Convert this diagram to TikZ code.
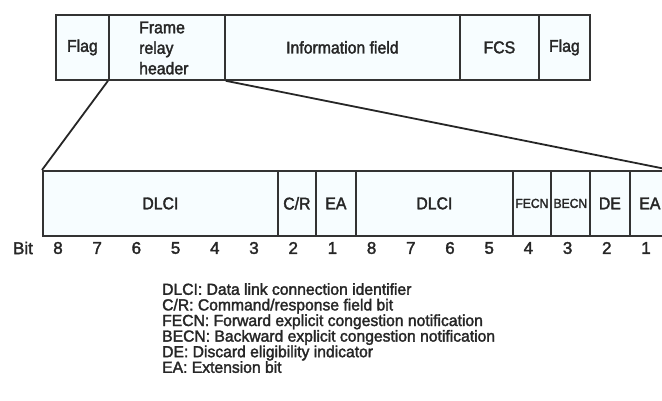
\documentclass[tikz,border=0pt]{standalone}
\usepackage{fontspec}
\setmainfont{Liberation Sans}[FakeBold=2]
\newfontfamily\condf{Liberation Sans}[FakeStretch=0.93,FakeBold=2]
\newfontfamily\legf{Liberation Sans}[FakeStretch=0.98,FakeBold=2]
\newfontfamily\bitf{Liberation Sans}[FakeStretch=1.0,FakeBold=2]
\begin{document}
\begin{tikzpicture}[x=1pt,y=-1pt,
  fld/.style={draw=black!80, line width=1.8pt, fill=cyan!3, rectangle, inner sep=0pt,
     anchor=north west, font=\condf\fontsize{17}{20.5}\selectfont, text=black!85},
  smallfld/.style={fld, font=\condf\fontsize{13}{15}\selectfont},
  bitlbl/.style={font=\bitf\fontsize{17}{19}\selectfont, text=black!85, inner sep=0pt},
  conn/.style={draw=black!85, line width=1.8pt},
  legend/.style={font=\legf\fontsize{16}{15.6}\selectfont, text=black!85, align=left, anchor=north west, inner sep=0pt}]
\useasboundingbox (0,0) rectangle (662,400);
\begin{scope}
\clip (0,0) rectangle (662,400);
% top frame
\node[fld, minimum width=53, minimum height=65] (flag1) at (55,14) {Flag};
\node[fld, minimum width=116, minimum height=65] (hdr) at (108,14) {};
\node[fld, minimum width=235, minimum height=65] (info) at (224,14) {Information field};
\node[fld, minimum width=79, minimum height=65] (fcs) at (459,14) {FCS};
\node[fld, minimum width=51, minimum height=65] (flag2) at (538,14) {Flag};
\node[font=\condf\fontsize{17}{20.5}\selectfont, text=black!85, align=left, anchor=west, inner sep=0pt] (hdrtxt) at (139,48) {Frame\\relay\\header};
% bottom header
\node[fld, minimum width=235, minimum height=65] (dlci1) at (42,170) {DLCI};
\node[fld, minimum width=38, minimum height=65] (cr) at (277,170) {C/R};
\node[fld, minimum width=40, minimum height=65] (ea1) at (315,170) {EA};
\node[fld, minimum width=157, minimum height=65] (dlci2) at (355,170) {DLCI};
\node[smallfld, minimum width=38, minimum height=65] (fecn) at (512,170) {FECN};
\node[smallfld, minimum width=39, minimum height=65] (becn) at (550,170) {BECN};
\node[fld, minimum width=40, minimum height=65] (de) at (589,170) {DE};
\node[fld, minimum width=40, minimum height=65] (ea2) at (629,170) {EA};
\draw[conn] (hdr.south west) -- (dlci1.north west);
\draw[conn] (hdr.south east) -- (ea2.north east);
\end{scope}
% bit numbers
\node[bitlbl] (bit) at (23,248) {Bit};
\foreach \n/\i in {8/0,7/1,6/2,5/3,4/4,3/5,2/6,1/7,8/8,7/9,6/10,5/11,4/12,3/13,2/14,1/15}
  \node[bitlbl] (b\i) at (58+39.2*\i,248) {\n};
% legend
\node[legend] (leg) at (162,283) {DLCI: Data link connection identifier\\
C/R: Command/response field bit\\
FECN: Forward explicit congestion notification\\
BECN: Backward explicit congestion notification\\
DE: Discard eligibility indicator\\
EA: Extension bit};
\end{tikzpicture}
\end{document}
